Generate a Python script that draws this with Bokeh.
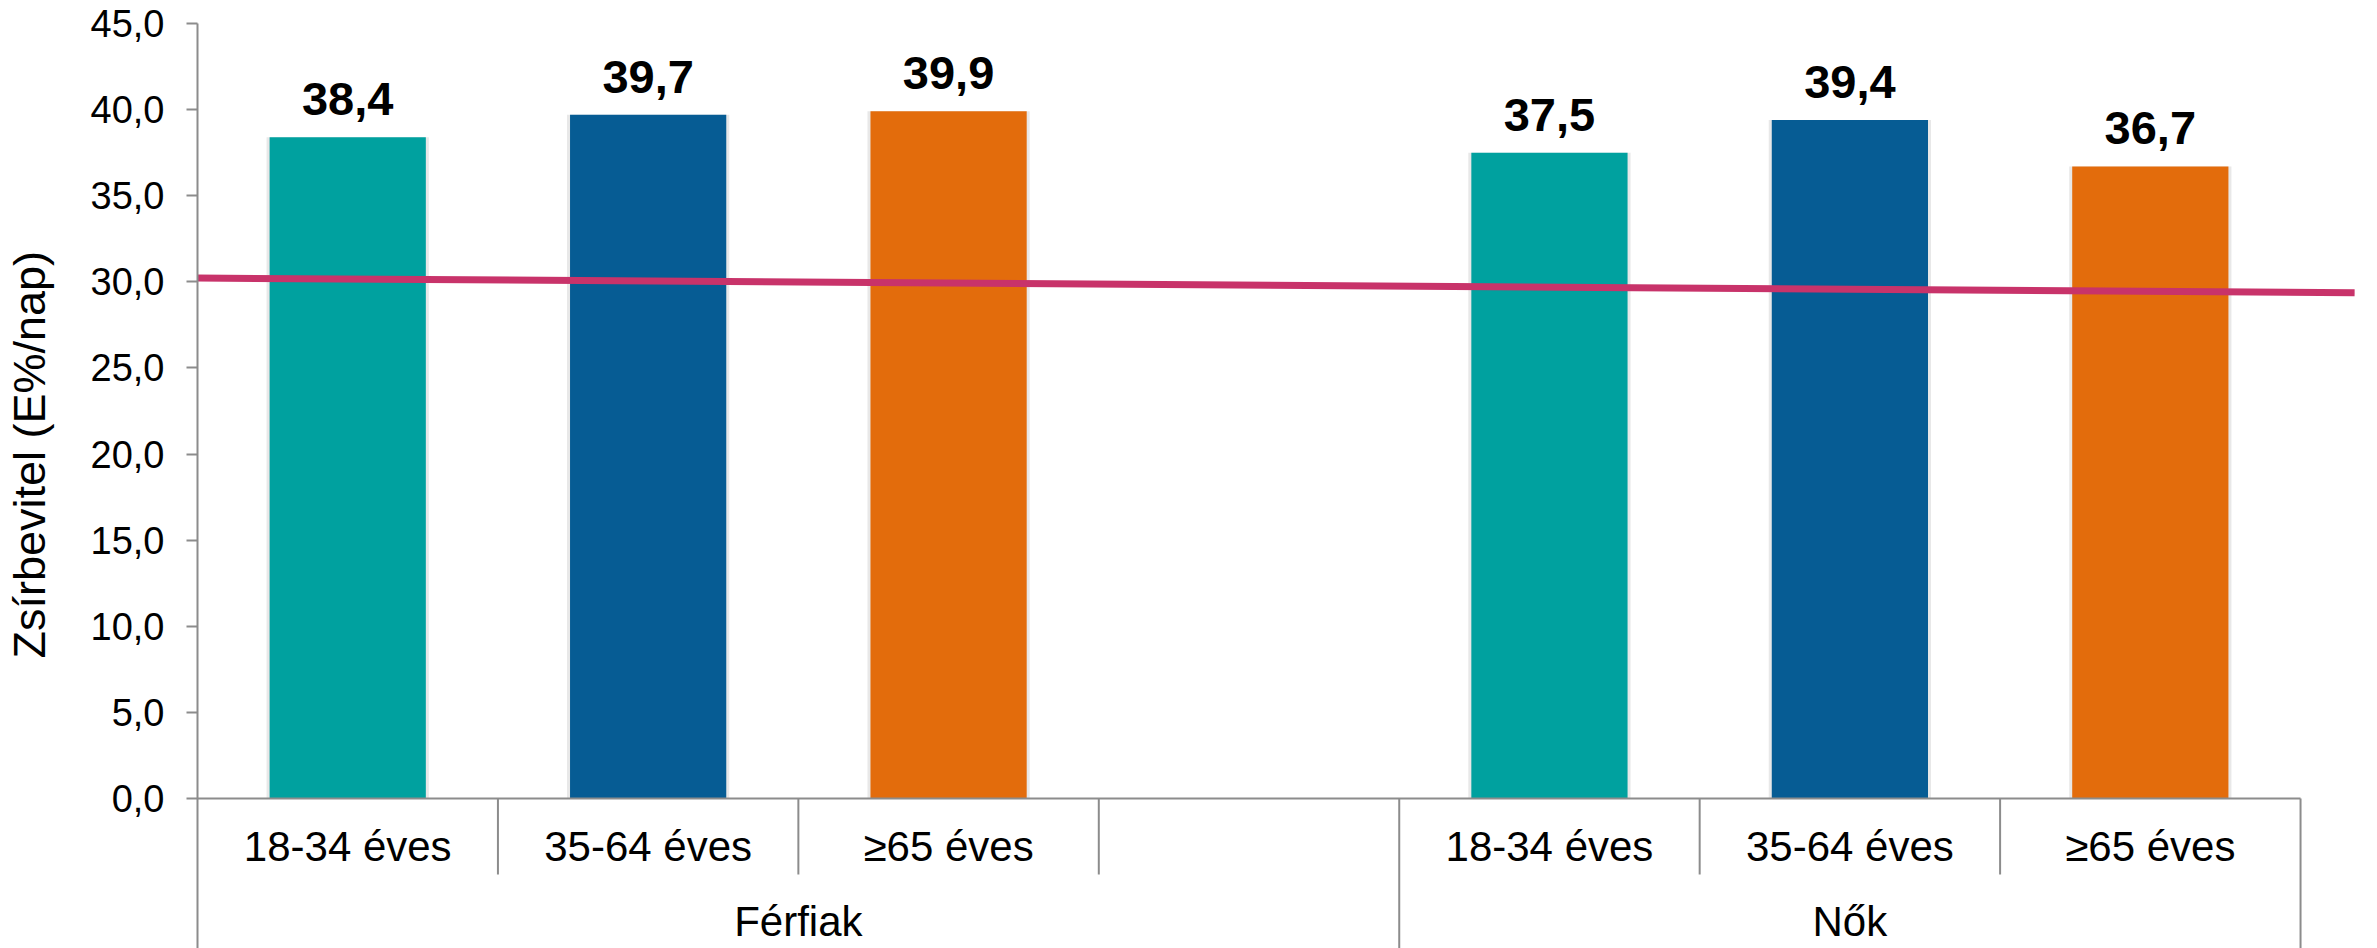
from bokeh.plotting import figure
from bokeh.models import Range1d, FixedTicker, ColumnDataSource
from bokeh.core.properties import value
from bokeh.embed import file_html
from bokeh.resources import INLINE

# ---------------- data ----------------
groups = ["Férfiak", "Nők"]
age_groups = ["18-34 éves", "35-64 éves", "≥65 éves"]
ferfiak = [38.4, 39.7, 39.9]
nok = [37.5, 39.4, 36.7]
group_slots = [4, 3]          # Férfiak has one empty category slot
age_colors = ["#00A19F", "#065C94", "#E36C0C"]
y_ticks = [0, 5, 10, 15, 20, 25, 30, 35, 40, 45]
y_tick_labels = ["0,0", "5,0", "10,0", "15,0", "20,0", "25,0", "30,0", "35,0", "40,0", "45,0"]
ref_x = [-0.06, 7.18]         # reference (recommendation) line, category units
ref_y = [30.23, 29.37]
y_title = "Zsírbevitel (E%/nap)"

FONT = "Liberation Sans"
AXIS_GRAY = "#8C8C8C"
BASELINE_FIX = 17  # px: svg alphabetic baseline renders lower than expected

# ---------------- derived layout from data ----------------
series = [ferfiak, nok]
bar_x, bar_top, bar_col, bar_txt = [], [], [], []
slot_x, slot_lab = [], []
grp_x = []
minor_b, major_b = [], []
off = 0
for g, vals, n in zip(groups, series, group_slots):
    for i in range(n):
        slot_x.append(off + i + 0.5)
        slot_lab.append(age_groups[i] if i < len(age_groups) else "")
        if i < len(vals):
            bar_x.append(off + i + 0.5)
            bar_top.append(vals[i])
            bar_col.append(age_colors[i])
            bar_txt.append(f"{vals[i]:.1f}".replace(".", ","))
        if i > 0:
            minor_b.append(off + i)
    grp_x.append(off + n / 2)
    off += n
    major_b.append(off)
total = off

px_per_slot = (2300 - 196) / total
x_end = (2377 - 196) / px_per_slot
px_per_unit = (798 - 23) / 45.0
y_bottom = -(948 - 798) / px_per_unit
minor_len = -(874 - 798) / px_per_unit
sub_y = -(863 - BASELINE_FIX - 798) / px_per_unit
grp_y = -(938 - BASELINE_FIX - 798) / px_per_unit

p = figure(width=2377, height=948,
           x_range=Range1d(0, x_end), y_range=Range1d(y_bottom, 45),
           output_backend="svg", toolbar_location=None, x_axis_location=None,
           min_border_left=196, min_border_top=23, min_border_right=0, min_border_bottom=0)
p.outline_line_color = None
p.xgrid.visible = False
p.ygrid.visible = False
p.background_fill_color = "white"
p.border_fill_color = "white"

bars = ColumnDataSource(dict(x=bar_x, top=bar_top, color=bar_col, txt=bar_txt))

# bar shadows + bars
p.vbar(x="x", top="top", bottom=0, width=0.54, source=bars, fill_color="#D8D8D8",
       fill_alpha=0.6, line_color=None)
p.vbar(x="x", top="top", bottom=0, width=0.52, source=bars, fill_color="color",
       line_color=None)

# value labels
p.text(x="x", y="top", text="txt", source=bars, text_font=value(FONT),
       text_font_style="bold", text_font_size="47px", text_color="black",
       text_align="center", text_baseline="alphabetic", y_offset=-(21 + BASELINE_FIX))

# reference line
p.line(ref_x, ref_y, line_color="#C8336A", line_width=7)

# category axis (baseline, separators, labels)
p.segment(x0=[0], y0=[0], x1=[total], y1=[0], line_color=AXIS_GRAY, line_width=2)
p.segment(x0=minor_b, y0=[0] * len(minor_b), x1=minor_b, y1=[minor_len] * len(minor_b),
          line_color=AXIS_GRAY, line_width=2)
p.segment(x0=major_b, y0=[0] * len(major_b), x1=major_b, y1=[y_bottom] * len(major_b),
          line_color=AXIS_GRAY, line_width=2)
p.text(x=slot_x, y=[sub_y] * len(slot_x), text=slot_lab, text_font=value(FONT),
       text_font_size="42px", text_color="black", text_align="center",
       text_baseline="alphabetic")
p.text(x=grp_x, y=[grp_y] * len(grp_x), text=groups, text_font=value(FONT),
       text_font_size="42px", text_color="black", text_align="center",
       text_baseline="alphabetic")

# y axis
ya = p.yaxis[0]
ya.ticker = FixedTicker(ticks=y_ticks)
ya.major_label_overrides = {t: l for t, l in zip(y_ticks, y_tick_labels)}
ya.axis_line_color = AXIS_GRAY
ya.axis_line_width = 2
ya.major_tick_line_color = AXIS_GRAY
ya.major_tick_line_width = 2
ya.major_tick_out = 11
ya.major_tick_in = 0
ya.minor_tick_out = 0
ya.minor_tick_in = 0
ya.major_label_text_font = FONT
ya.major_label_text_font_size = "38px"
ya.major_label_text_color = "black"
ya.major_label_standoff = 22
# leading no-break spaces lift the (centred) title to the reference position
ya.axis_label = "\u00a0" * 5 + y_title
ya.axis_label_text_font = FONT
ya.axis_label_text_font_size = "45px"
ya.axis_label_text_font_style = "normal"
ya.axis_label_text_color = "black"
ya.axis_label_standoff = 33

open("out.html", "w").write(file_html(p, INLINE))
